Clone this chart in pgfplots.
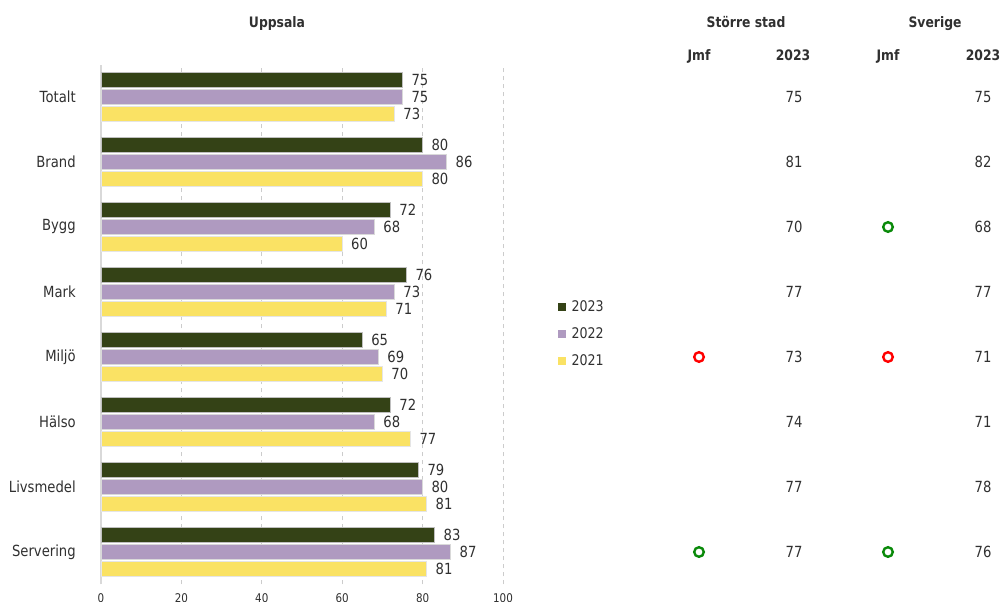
\documentclass[border=0pt]{standalone}
\usepackage{fontspec}
\setmainfont{DejaVu Sans}[FakeStretch=0.86]
\usepackage{pgfplots}
\pgfplotsset{compat=1.18}
\definecolor{c23}{HTML}{344216}
\definecolor{c22}{HTML}{AF9AC0}
\definecolor{c21}{HTML}{FAE264}
\definecolor{txt}{HTML}{303030}
\definecolor{okgreen}{HTML}{0A8A0A}
\tikzset{hdr/.style={font=\bfseries\fontsize{10.8}{12}\selectfont, text=txt, anchor=base, inner sep=0pt}}

% y: Totalt = 7 ... Servering = 0
\pgfplotstableread{
y  a23 a22 a21
7  75  75  73
6  80  86  80
5  72  68  60
4  76  73  71
3  65  69  70
2  72  68  77
1  79  80  81
0  83  87  81
}\uppsala

\begin{document}
\begin{tikzpicture}[x=0.75pt,y=0.75pt]
\useasboundingbox (0,0) rectangle (1002,602);

\begin{axis}[
    at={(75.75pt,13.125pt)}, anchor=south west,
    scale only axis, width=301.5pt, height=390pt,
    xmin=0, xmax=100, ymin=-0.5, ymax=7.5,
    xbar, bar width=11.25pt,
    axis line style={draw=none},
    font=\fontsize{11.5}{13}\selectfont,
    /pgf/number format/assume math mode=true,
    tick label style={text=txt},
    xtick={20,40,60,80,100},
    extra x ticks={0},
    extra x tick style={grid=major, major grid style={solid, black!15, line width=0.8pt}},
    xmajorgrids, major grid style={dashed, black!20, line width=0.6pt},
    tick style={draw=none},
    xticklabel style={inner sep=0pt, anchor=north, yshift=-6.5pt, font=\fontsize{9}{10}\selectfont},
    ytick={0,...,7},
    yticklabels={Servering,Livsmedel,Hälso,Miljö,Mark,Bygg,Brand,Totalt},
    yticklabel style={inner sep=0pt, anchor=east, xshift=-14.5pt},
    nodes near coords,
    every node near coord/.append style={anchor=west, inner sep=0pt, xshift=6.5pt, text=txt, font=\fontsize{11.5}{13}\selectfont},
    clip=false,
    legend style={at={(1.125,0.4817)}, anchor=west, draw=none, fill=none,
        font=\fontsize{11}{13}\selectfont, text=txt, row sep=6.6pt,
        /tikz/every odd column/.append style={column sep=2.5pt}},
    legend cell align=left,
    legend image code/.code={\fill[#1,draw=none] (0pt,-3pt) rectangle (6pt,3pt);},
    ]
    \addplot[fill=c23, draw=black!25, line width=0.5pt, bar shift=12.75pt] table[x=a23, y=y] {\uppsala};
    \addlegendentry{2023}
    \addplot[fill=c22, draw=white!85!black, line width=0.5pt, bar shift=0pt] table[x=a22, y=y] {\uppsala};
    \addlegendentry{2022}
    \addplot[fill=c21, draw=white!90!black, line width=0.5pt, bar shift=-12.75pt] table[x=a21, y=y] {\uppsala};
    \addlegendentry{2021}
\end{axis}

% right-hand table, same vertical scale, x in pixels
\begin{axis}[
    at={(0pt,13.125pt)}, anchor=south west,
    scale only axis, width=751.5pt, height=390pt,
    xmin=0, xmax=1002, ymin=-0.5, ymax=7.5,
    hide axis, clip=false,
    font=\fontsize{11.5}{13}\selectfont,
    ]
    % Större stad 2023
    \addplot[only marks, mark=none, nodes near coords, point meta=explicit symbolic,
        every node near coord/.append style={anchor=center, text=txt}]
        coordinates {(794,7)[75] (794,6)[81] (794,5)[70] (794,4)[77] (794,3)[73] (794,2)[74] (794,1)[77] (794,0)[77]};
    % Sverige 2023
    \addplot[only marks, mark=none, nodes near coords, point meta=explicit symbolic,
        every node near coord/.append style={anchor=center, text=txt}]
        coordinates {(983,7)[75] (983,6)[82] (983,5)[68] (983,4)[77] (983,3)[71] (983,2)[71] (983,1)[78] (983,0)[76]};
    % Jmf markers
    \addplot[only marks, mark=o, mark size=3.6pt, line width=1.8pt, red] coordinates {(699,3) (888,3)};
    \addplot[only marks, mark=o, mark size=3.6pt, line width=1.8pt, okgreen] coordinates {(699,0) (888,5) (888,0)};

    \node[hdr] at (axis cs:277,8.069) {Uppsala};
    \node[hdr] at (axis cs:746,8.069) {Större stad};
    \node[hdr] at (axis cs:935,8.069) {Sverige};
    \node[hdr] at (axis cs:699,7.569) {Jmf};
    \node[hdr] at (axis cs:793,7.569) {2023};
    \node[hdr] at (axis cs:888,7.569) {Jmf};
    \node[hdr] at (axis cs:983,7.569) {2023};
\end{axis}
\end{tikzpicture}
\end{document}
